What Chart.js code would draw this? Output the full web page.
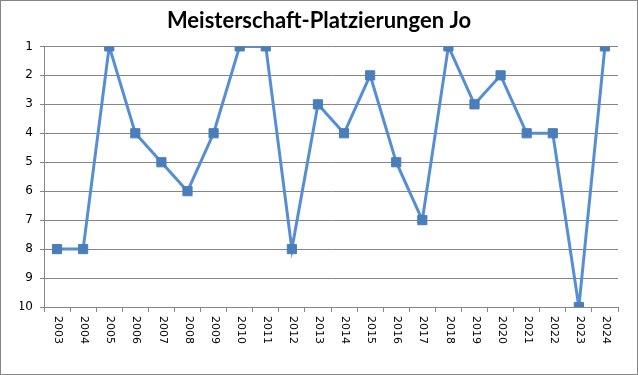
<!DOCTYPE html>
<html>
<head>
<meta charset="utf-8">
<script src="https://cdn.jsdelivr.net/npm/chart.js@4"></script>
<style>
  body { margin: 0; background: #fff; }
  #wrap { width: 638px; height: 375px; }
</style>
</head>
<body>
<div id="wrap"><canvas id="rankChart" width="638" height="375"></canvas></div>
<script>
// Jahre und Platzierungen
const years = ['2003', '2004', '2005', '2006', '2007', '2008', '2009', '2010', '2011', '2012', '2013',
               '2014', '2015', '2016', '2017', '2018', '2019', '2020', '2021', '2022', '2023', '2024'];
const placements = [8, 8, 1, 4, 5, 6, 4, 1, 1, 8, 3, 4, 2, 5, 7, 1, 3, 2, 4, 4, 10, 1];
const yTicks = [1, 2, 3, 4, 5, 6, 7, 8, 9, 10];
const chartTitle = 'Meisterschaft-Platzierungen Jo';

// outer frame like the spreadsheet chart box
const framePlugin = {
    id: 'frame',
    beforeDraw(chart) {
        const c = chart.ctx;
        c.save();
        c.fillStyle = '#fff';
        c.fillRect(0, 0, chart.width, chart.height);
        c.strokeStyle = '#868686';
        c.lineWidth = 1;
        c.strokeRect(0.5, 0.5, chart.width - 1, chart.height - 1);
        c.restore();
    }
};

// year labels read top to bottom (rotated clockwise), chart.js only rotates the other way
const yearLabels = {
    id: 'yearLabels',
    afterDraw(chart) {
        const x = chart.scales.x;
        const c = chart.ctx;
        c.save();
        c.font = '11px "DejaVu Sans"';
        c.fillStyle = '#000';
        c.textAlign = 'left';
        c.textBaseline = 'middle';
        years.forEach((yr, i) => {
            const px = x.getPixelForTick(i);
            c.save();
            c.translate(px + 1, chart.chartArea.bottom + 9);
            c.rotate(Math.PI / 2);
            c.fillText(yr, 0, 0);
            c.restore();
        });
        c.restore();
    }
};

const ctx = document.getElementById('rankChart').getContext('2d');
const rankChart = new Chart(ctx, {
    type: 'line',
    data: {
        labels: years,
        datasets: [{
            label: 'Platzierung',
            data: placements,
            borderColor: '#558ED5',
            borderWidth: 3,
            tension: 0,
            pointStyle: 'rect',
            pointRadius: 6.5,
            pointBackgroundColor: '#4A7EBB',
            pointBorderColor: '#4A7EBB',
            pointBorderWidth: 1
        }]
    },
    options: {
        responsive: false,
        animation: false,
        layout: { padding: { left: 20, right: 20, top: 0, bottom: 0 } },
        plugins: {
            legend: { display: false },
            tooltip: { enabled: false },
            title: {
                display: true,
                text: chartTitle,
                color: '#000',
                font: { family: 'Lato', size: 22, weight: 'bold' },
                padding: { top: 8, bottom: 12 }
            }
        },
        scales: {
            x: {
                offset: true,
                grid: { offset: true, drawOnChartArea: false, drawTicks: true, tickLength: 5, color: '#868686' },
                border: { color: '#868686' },
                ticks: { display: false },
                afterFit(scale) { scale.height = 68; }
            },
            y: {
                reverse: true,
                min: 1,
                max: 10,
                afterBuildTicks(scale) { scale.ticks = yTicks.map(v => ({ value: v })); },
                grid: { color: '#868686', tickLength: 4 },
                border: { color: '#868686' },
                ticks: {
                    color: '#000',
                    padding: 7,
                    font: { family: 'DejaVu Sans', size: 12 }
                },
                afterFit(scale) { scale.width = 24; }
            }
        }
    },
    plugins: [framePlugin, yearLabels]
});
</script>
</body>
</html>
